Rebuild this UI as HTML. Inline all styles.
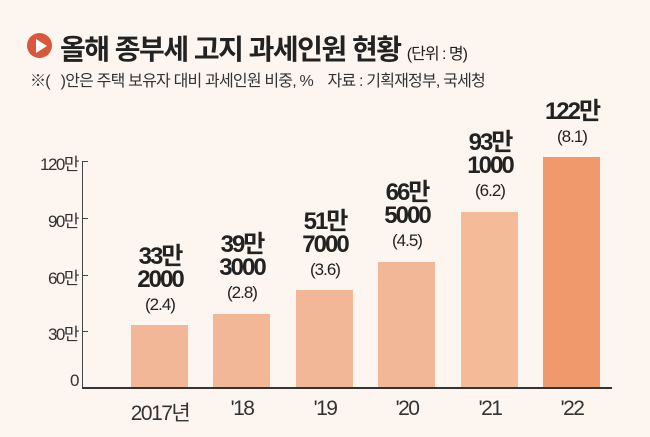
<!DOCTYPE html>
<html><head><meta charset="utf-8"><style>
body{margin:0;width:650px;height:437px;background:#fdf5ef;overflow:hidden;font-family:"Liberation Sans","Noto Sans CJK KR",sans-serif;position:relative}
.a{position:absolute;white-space:nowrap}
.v{position:absolute;text-align:center;width:100px;font-weight:bold;font-size:24px;line-height:23px;color:#222;letter-spacing:-2px}
.p{font-weight:normal;font-size:17px;line-height:21px;letter-spacing:-1px}
.t{position:absolute;right:572px;font-size:17px;color:#333;letter-spacing:-1.5px}
.x{position:absolute;width:100px;text-align:center;font-size:21px;color:#333;top:397px;letter-spacing:-1.5px}
</style></head><body>
<div class="a" style="left:27px;top:33px;width:25px;height:25px;border-radius:50%;background:#d9573a"></div>
<div class="a" style="left:36px;top:39px;width:0;height:0;border-left:11px solid #fff;border-top:7px solid transparent;border-bottom:7px solid transparent"></div>
<div class="a" style="left:60px;top:28px;font-size:28px;font-weight:bold;color:#222;letter-spacing:-1.5px">올해 종부세 고지 과세인원 현황 <span style="font-size:16px;font-weight:normal;letter-spacing:-1px">(단위 : 명)</span></div>
<div class="a" style="left:30px;top:67px;font-size:16px;color:#333;letter-spacing:-0.8px">※(&nbsp;&nbsp; )안은 주택 보유자 대비 과세인원 비중, %&nbsp;&nbsp;&nbsp; 자료 : 기획재정부, 국세청</div>
<div class="a" style="left:82px;top:161px;width:1px;height:227px;background:#444"></div>
<div class="a" style="left:82px;top:387px;width:530px;height:2px;background:#333"></div>
<div class="a" style="left:82px;top:161px;width:6px;height:1px;background:#444"></div>
<div class="a" style="left:82px;top:218px;width:6px;height:1px;background:#444"></div>
<div class="a" style="left:82px;top:275px;width:6px;height:1px;background:#444"></div>
<div class="a" style="left:82px;top:331px;width:6px;height:1px;background:#444"></div>
<div class="t" style="top:150px">120만</div>
<div class="t" style="top:207px">90만</div>
<div class="t" style="top:264px">60만</div>
<div class="t" style="top:320px">30만</div>
<div class="t" style="top:371px">0</div>

<div class="a" style="left:131px;top:325px;width:57px;height:62px;background:#f2b796"></div>
<div class="a" style="left:213px;top:314px;width:57px;height:73px;background:#f2b796"></div>
<div class="a" style="left:296px;top:290px;width:57px;height:97px;background:#f2b796"></div>
<div class="a" style="left:378px;top:262px;width:57px;height:125px;background:#f2b796"></div>
<div class="a" style="left:461px;top:212px;width:57px;height:175px;background:#f4bb99"></div>
<div class="a" style="left:543px;top:157px;width:57px;height:230px;background:#ef996c"></div>

<div class="v" style="left:110px;top:245px">33만<br>2000<br><span class="p">(2.4)</span></div>
<div class="v" style="left:192px;top:233px">39만<br>3000<br><span class="p">(2.8)</span></div>
<div class="v" style="left:275px;top:210px">51만<br>7000<br><span class="p">(3.6)</span></div>
<div class="v" style="left:357px;top:181px">66만<br>5000<br><span class="p">(4.5)</span></div>
<div class="v" style="left:440px;top:131px">93만<br>1000<br><span class="p">(6.2)</span></div>
<div class="v" style="left:522px;top:100px">122만<br><span class="p">(8.1)</span></div>

<div class="x" style="left:110px">2017년</div>
<div class="x" style="left:192px">'18</div>
<div class="x" style="left:275px">'19</div>
<div class="x" style="left:357px">'20</div>
<div class="x" style="left:440px">'21</div>
<div class="x" style="left:522px">'22</div>
</body></html>
